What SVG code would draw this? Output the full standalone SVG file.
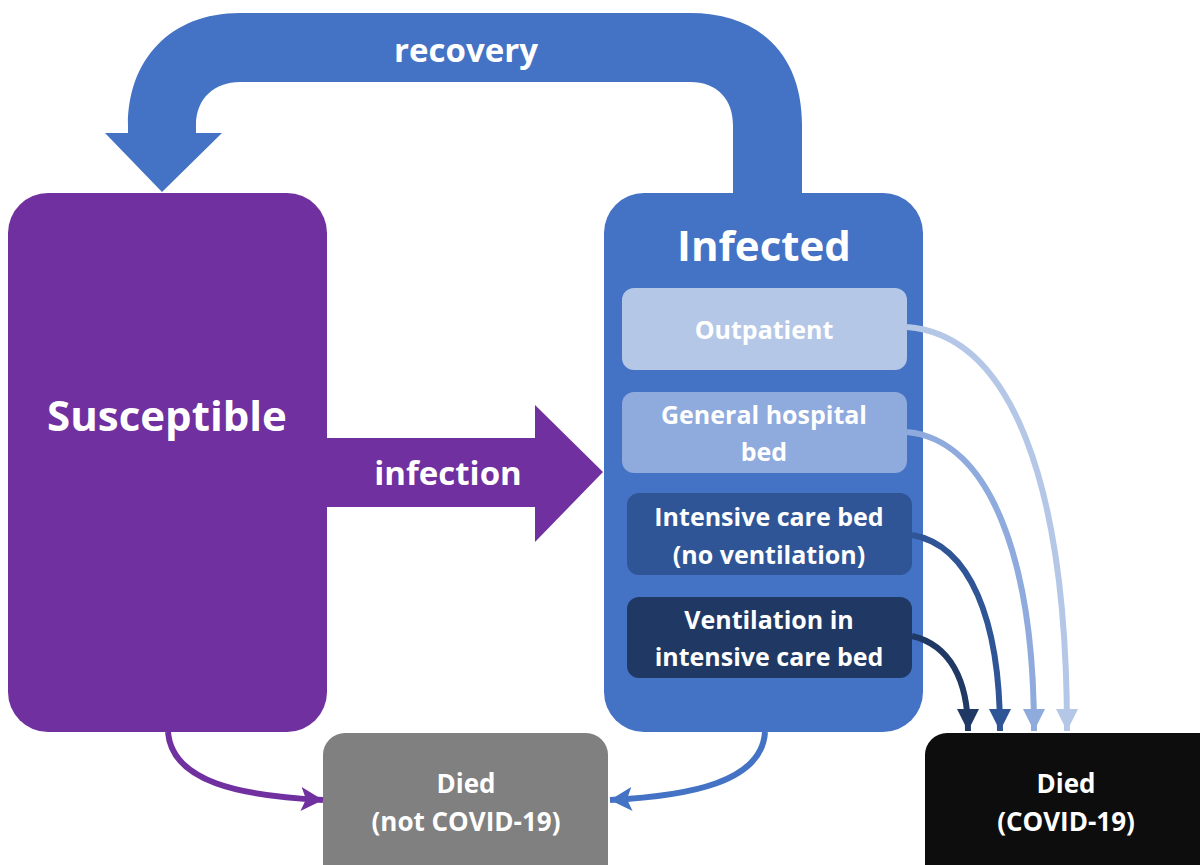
<svg xmlns="http://www.w3.org/2000/svg" width="1200" height="865" viewBox="0 0 1200 865">
<style>
text{font-family:"Open Sans","Noto Sans","Liberation Sans",sans-serif;font-weight:700;fill:#fff;text-anchor:middle}
.conn{fill:none;stroke-width:6}
.sub{font-size:25px}
.died{font-size:26px}
</style>
<defs>
<marker id="mP" markerUnits="userSpaceOnUse" markerWidth="24" markerHeight="24" refX="22" refY="12" orient="auto"><path d="M0,0 L22,12 L0,24 L5,12 Z" fill="#7030A0"/></marker>
<marker id="mB" markerUnits="userSpaceOnUse" markerWidth="24" markerHeight="24" refX="22" refY="12" orient="auto"><path d="M0,0 L22,12 L0,24 L5,12 Z" fill="#4472C4"/></marker>
<marker id="m1" markerUnits="userSpaceOnUse" markerWidth="24" markerHeight="24" refX="22" refY="12" orient="auto"><path d="M0,1 L22,12 L0,23 Z" fill="#B4C7E7"/></marker>
<marker id="m2" markerUnits="userSpaceOnUse" markerWidth="24" markerHeight="24" refX="22" refY="12" orient="auto"><path d="M0,1 L22,12 L0,23 Z" fill="#8FAADC"/></marker>
<marker id="m3" markerUnits="userSpaceOnUse" markerWidth="24" markerHeight="24" refX="22" refY="12" orient="auto"><path d="M0,1 L22,12 L0,23 Z" fill="#2F5597"/></marker>
<marker id="m4" markerUnits="userSpaceOnUse" markerWidth="24" markerHeight="24" refX="22" refY="12" orient="auto"><path d="M0,1 L22,12 L0,23 Z" fill="#203864"/></marker>
</defs>
<rect width="1200" height="865" fill="#fff"/>

<g id="recovery">
<path d="M802,193 L802,125 C802,55 760,13 690,13 L240,13 C170,13 128,60 128,125 L128,133 L105,133 L162,192 L222,133 L196,133 L196,125 C196,98 215,82 240,82 L690,82 C718,82 733,100 733,125 L733,193 Z" fill="#4472C4"/>
<text x="466" y="62" font-size="33">recovery</text>
</g>

<g id="infection">
<path d="M327,438 L535,438 L535,405 L603,472 L535,542 L535,507 L327,507 Z" fill="#7030A0"/>
<text x="448" y="485" font-size="33">infection</text>
</g>

<g id="susceptible">
<rect x="8" y="193" width="319" height="539" rx="40" fill="#7030A0"/>
<text x="167" y="431" font-size="42">Susceptible</text>
</g>

<g id="infected">
<rect x="604" y="193" width="319" height="539" rx="40" fill="#4472C4"/>
<text x="764" y="261" font-size="42">Infected</text>
</g>

<g id="outpatient">
<rect x="622" y="288" width="285" height="82" rx="12" fill="#B4C7E7"/>
<text x="764" y="339" class="sub">Outpatient</text>
</g>

<g id="general">
<rect x="622" y="392" width="285" height="81" rx="12" fill="#8FAADC"/>
<text x="764" y="424" class="sub">General hospital</text>
<text x="764" y="461" class="sub">bed</text>
</g>

<g id="icu">
<rect x="627" y="493" width="285" height="82" rx="12" fill="#2F5597"/>
<text x="769" y="526" class="sub">Intensive care bed</text>
<text x="769" y="564" class="sub">(no ventilation)</text>
</g>

<g id="ventilation">
<rect x="627" y="597" width="285" height="81" rx="12" fill="#203864"/>
<text x="769" y="629" class="sub">Ventilation in</text>
<text x="769" y="666" class="sub">intensive care bed</text>
</g>

<g id="died-other">
<rect x="323" y="733" width="285" height="160" rx="22" fill="#808080"/>
<text x="466" y="793" class="died">Died</text>
<text x="466" y="831" class="died">(not COVID-19)</text>
</g>

<g id="died-covid">
<rect x="925" y="733" width="300" height="160" rx="22" fill="#0D0D0D"/>
<text x="1066" y="793" class="died">Died</text>
<text x="1066" y="831" class="died">(COVID-19)</text>
</g>

<g id="connectors">
<path class="conn" stroke="#7030A0" d="M168,732 C172,782 240,796 323,800" marker-end="url(#mP)"/>
<path class="conn" stroke="#4472C4" d="M765,732 C762,782 690,796 610,800" marker-end="url(#mB)"/>
<path class="conn" stroke="#B4C7E7" d="M907,327 C1010,335 1067,480 1067,731" marker-end="url(#m1)"/>
<path class="conn" stroke="#8FAADC" d="M907,432 C990,440 1034,560 1034,731" marker-end="url(#m2)"/>
<path class="conn" stroke="#2F5597" d="M912,535 C970,545 1000,620 1000,731" marker-end="url(#m3)"/>
<path class="conn" stroke="#203864" d="M912,636 C950,645 968,680 968,731" marker-end="url(#m4)"/>
</g>
</svg>
